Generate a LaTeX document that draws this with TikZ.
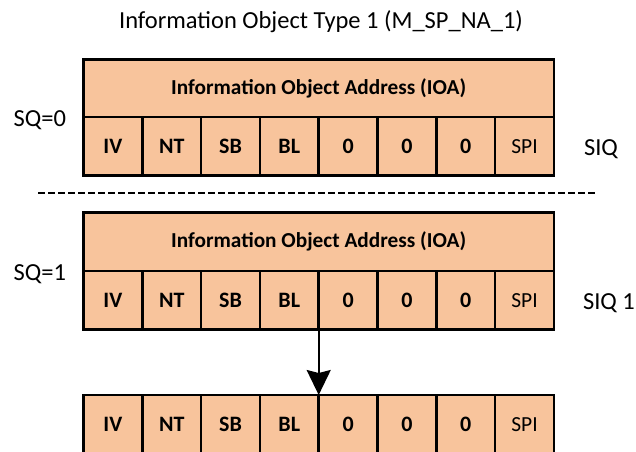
\documentclass[tikz,border=0pt]{standalone}
\usepackage{fontspec}
\setmainfont{Carlito}
\usetikzlibrary{arrows.meta}
\definecolor{cellfill}{HTML}{F8C49C}
\tikzset{
  cell/.style={draw, line width=2.5pt, fill=cellfill, outer sep=0pt, inner sep=0pt,
    minimum width=58.8pt, minimum height=58.3pt, anchor=north west,
    font=\bfseries\fontsize{22}{26}\selectfont},
  plaincell/.style={cell, font=\fontsize{21.5}{25}\selectfont},
  ioabox/.style={cell, minimum width=470.4pt, font=\bfseries\fontsize{21.3}{25}\selectfont},
  sidelabel/.style={font=\fontsize{24.5}{28}\selectfont, inner sep=0pt, outer sep=0pt},
  titlelabel/.style={font=\fontsize{24.5}{28}\selectfont, inner sep=0pt, outer sep=0pt},
  separator/.style={line width=1.7pt, dash pattern=on 6.5pt off 3.5pt},
  flow/.style={line width=2pt, -{Stealth[length=25pt, width=24pt, inset=3pt]}}
}
\begin{document}
\begin{tikzpicture}[x=1pt, y=-1pt]
  \useasboundingbox (0,0) rectangle (636,451);
  \clip (0,0) rectangle (636,451);

  % title
  \node[titlelabel, anchor=base] (title) at (321,28.5) {Information Object Type 1 (M\_SP\_NA\_1)};

  % SQ=0 : one address followed by one SIQ
  \node[ioabox] (ioaA) at (83.5,59.3) {Information Object Address (IOA)};
  \foreach [count=\i] \t in {IV,NT,SB,BL,0,0,0}
    \node[cell] (a\i) at ({83.5+(\i-1)*58.8},117) {\t};
  \node[plaincell] (a8) at ({83.5+7*58.8},117) {SPI};
  \node[sidelabel, anchor=base east] (sq0) at (66,126.3) {SQ=0};
  \node[sidelabel, anchor=base west] (siq0) at (584,155) {SIQ};

  % separator between the two variants
  \coordinate (sepL) at (38,193);
  \coordinate (sepR) at (595,193);
  \draw[separator] (sepL) -- (sepR);

  % SQ=1 : one address followed by a sequence of SIQs
  \node[ioabox] (ioaB) at (83.5,212.5) {Information Object Address (IOA)};
  \foreach [count=\i] \t in {IV,NT,SB,BL,0,0,0}
    \node[cell] (b\i) at ({83.5+(\i-1)*58.8},271) {\t};
  \node[plaincell] (b8) at ({83.5+7*58.8},271) {SPI};
  \node[sidelabel, anchor=base east] (sq1) at (66,280.5) {SQ=1};
  \node[sidelabel, anchor=base west] (siq1) at (583,309) {SIQ 1};

  \foreach [count=\i] \t in {IV,NT,SB,BL,0,0,0}
    \node[cell] (c\i) at ({83.5+(\i-1)*58.8},395) {\t};
  \node[plaincell] (c8) at ({83.5+7*58.8},395) {SPI};

  \draw[flow] (b4.south east) -- (c4.north east);
\end{tikzpicture}
\end{document}
